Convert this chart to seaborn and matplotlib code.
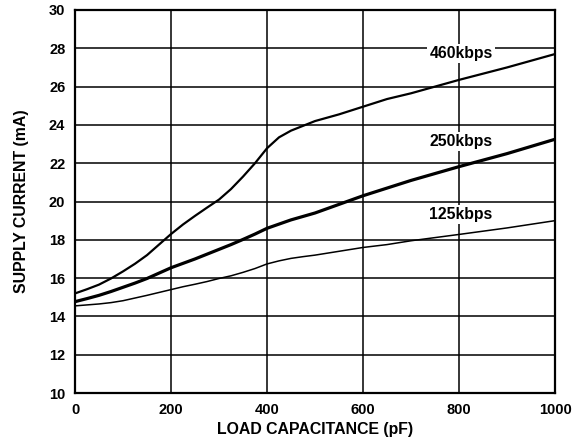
import pandas as pd
import matplotlib
matplotlib.use("Agg")
import matplotlib.pyplot as plt
import seaborn as sns

# load capacitance (pF) sample points
cap_pf = [0, 25, 50, 75, 100, 125, 150, 175, 200, 225, 250, 275, 300, 325, 350, 375, 400,
          425, 450, 475, 500, 550, 600, 650, 700, 800, 900, 1000]

# supply current (mA) per data rate
i_460 = [15.2, 15.42, 15.66, 15.98, 16.35, 16.75, 17.2, 17.75, 18.3, 18.8, 19.25, 19.68, 20.1,
         20.65, 21.3, 22.0, 22.78, 23.35, 23.7, 23.95, 24.2, 24.55, 24.95, 25.35, 25.65, 26.35,
         27.0, 27.7]
i_250 = [14.77, 14.93, 15.1, 15.3, 15.52, 15.74, 15.98, 16.26, 16.54, 16.77, 17.0, 17.25, 17.5,
         17.75, 18.02, 18.3, 18.6, 18.82, 19.04, 19.22, 19.4, 19.85, 20.3, 20.7, 21.1, 21.82,
         22.5, 23.25]
i_125 = [14.55, 14.6, 14.65, 14.72, 14.82, 14.96, 15.1, 15.25, 15.4, 15.55, 15.68, 15.82, 15.98,
         16.12, 16.3, 16.5, 16.74, 16.9, 17.03, 17.12, 17.2, 17.4, 17.6, 17.75, 17.95, 18.28,
         18.62, 19.0]

rates = ["460kbps", "250kbps", "125kbps"]
label_x = [804, 804, 804]
label_y = [27.75, 23.15, 19.3]
widths = [1.6, 2.3, 1.1]

df = pd.DataFrame({
    "cap": cap_pf * 3,
    "current": i_460 + i_250 + i_125,
    "rate": [r for r in rates for _ in cap_pf],
})

sns.set_style("white")
plt.rcParams["font.family"] = ["Liberation Sans", "DejaVu Sans"]
plt.rcParams["font.weight"] = "bold"
plt.rcParams["text.color"] = "black"
plt.rcParams["axes.labelcolor"] = "black"
plt.rcParams["xtick.color"] = "black"
plt.rcParams["ytick.color"] = "black"

fig = plt.figure(figsize=(5.73, 4.46), dpi=100)
ax = fig.add_axes([0.1309, 0.1188, 0.8377, 0.8588])

for rate, lw in zip(rates, widths):
    sns.lineplot(data=df[df["rate"] == rate], x="cap", y="current", ax=ax,
                 color="black", linewidth=lw, zorder=3)

for rate, lx, ly in zip(rates, label_x, label_y):
    ax.text(lx, ly, rate, ha="center", va="center", fontsize=11.4, fontweight="bold",
            zorder=4, bbox=dict(facecolor="white", edgecolor="none", pad=1.5))

ax.set_xlim(0, 1000)
ax.set_ylim(10, 30)
ax.set_xticks(range(0, 1001, 200))
ax.set_yticks(range(10, 31, 2))
ax.grid(True, color="black", linewidth=1.1)
ax.set_axisbelow(True)
for s in ax.spines.values():
    s.set_color("black")
    s.set_linewidth(1.6)
ax.tick_params(length=0, labelsize=10.5, pad=7)
for t in ax.get_xticklabels() + ax.get_yticklabels():
    t.set_fontweight("bold")

ax.set_xlabel("LOAD CAPACITANCE (pF)", fontsize=11.4, fontweight="bold", labelpad=4)
ax.set_ylabel("SUPPLY CURRENT (mA)", fontsize=11.4, fontweight="bold", labelpad=14)

fig.savefig("out.png", dpi=100)
